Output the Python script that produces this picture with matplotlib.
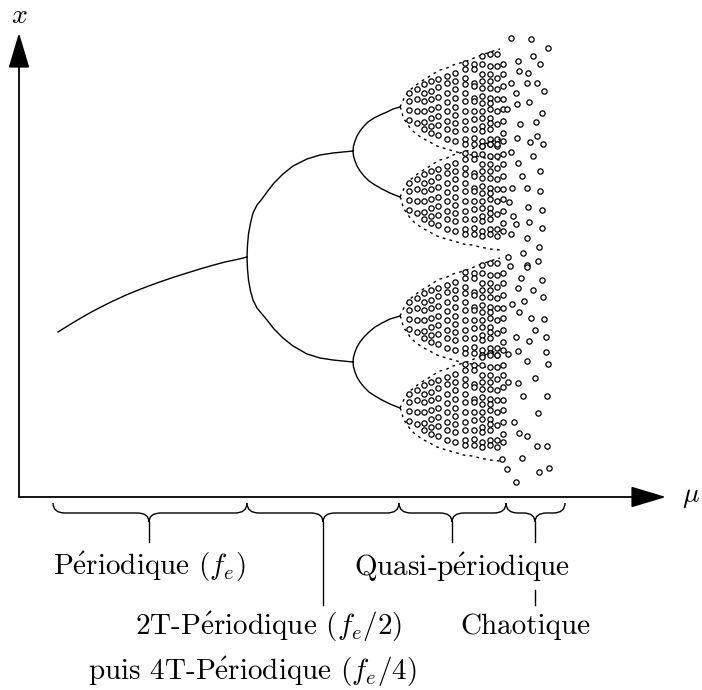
import matplotlib
matplotlib.use("Agg")
import matplotlib.pyplot as plt
from matplotlib.path import Path
from matplotlib.patches import PathPatch

plt.rcParams["mathtext.fontset"] = "cm"
plt.rcParams["font.family"] = ["cmr10", "DejaVu Serif"]

# --- data (picture coordinates, y grows downwards) ---
main_x = [58, 70, 80, 90, 100, 112, 125, 137, 150, 162, 175, 187, 200, 212, 225, 237, 247]
main_y = [332, 324.5, 318.5, 312.8, 307.5, 301.5, 295.5, 290.5, 285.5, 281.2, 276.8,
          273, 269, 265.5, 262, 259.5, 257]

arc_x = [247, 247.5, 248.5, 250.5, 253, 257, 262, 267, 274, 283, 293, 307, 320, 333, 343, 353]
arc_up_y = [257, 245, 234, 223, 213, 205, 199, 192, 183, 174, 166, 159, 155, 153, 152, 151]
arc_dn_y = [257, 269, 280, 291, 300, 308, 314, 320, 329, 338, 346, 354, 358, 360, 361, 362]

b1_up_x = [353, 353.5, 355, 357, 360, 364, 368, 374, 380, 387, 393, 400]
b1_up_y = [151, 146, 141, 136, 131, 126, 122, 118, 115, 112, 109, 107]
b1_dn_x = [353, 353.5, 355, 357, 360, 364, 369, 375, 382, 390, 400]
b1_dn_y = [151, 156, 161, 166, 171, 176, 181, 185, 189, 193, 197]
b2_up_x = [353, 353.5, 355, 357, 360, 364, 369, 375, 382, 390, 400]
b2_up_y = [362, 357, 352, 347, 342, 337, 332, 327, 323, 319, 316]
b2_dn_x = [353, 353.5, 355, 357, 360, 364, 369, 375, 382, 390, 400]
b2_dn_y = [362, 367, 372, 377, 382, 387, 392, 396, 400, 404, 408]

# tips of the four quasi-periodic lobes
lobe_x0 = [400, 400, 400, 400]
lobe_y0 = [107, 197, 316, 408]

# dashed lobe outline, offsets from the tip
env_up_dx = [0, 2, 5, 10, 15, 20, 27, 33, 40, 47, 53, 60, 67, 74, 82, 90, 100]
env_up_dy = [0, -4, -11, -17, -21, -25, -29, -33, -37, -39, -42, -44, -46, -49, -52, -55, -58]
env_dn_dx = [0, 2, 3, 7, 10, 15, 22, 28, 37, 43, 50, 57, 63, 72, 80, 90, 100]
env_dn_dy = [0, 4, 11, 16, 21, 26, 31, 34, 39, 41, 43, 45, 47, 48, 50, 52, 53]

# torus section dots inside a lobe: column offset -> row offsets
lobe_cols = {
    9: [-14, -6, 3, 13],
    17: [-18, -8, 4, 16],
    24: [-23, -14, -6, 4, 15, 22],
    31: [-26, -16, -8, 2, 11, 19, 26],
    38: [-28, -20, -10, 0, 9, 18, 28],
    47: [-31, -24, -14, -5, 4, 14, 22, 32],
    55: [-34, -26, -18, -9, 0, 8, 16, 24, 34],
    65: [-44, -38, -29, -23, -14, -6, 4, 14, 22, 32, 37],
    74: [-43, -38, -24, -21, -9, -6, 4, 12, 22, 31, 37],
    82: [-51, -43, -33, -26, -19, -11, -4, 4, 11, 19, 24, 34, 39],
    90: [-53, -41, -33, -26, -19, -9, -4, 2, 11, 16, 22, 32, 37],
    97: [-53, -41, -29, -18, -8, 4, 17, 32, 39],
    103: [-43, -33, -21, -8, 2, 14, 26, 34],
}

# chaotic scatter on the right
chaos_x = [511, 531, 548, 533, 518, 540, 519, 528, 511, 527, 537, 544, 516, 529,
           517, 542, 507, 536, 520, 537, 517, 530, 543,
           511, 518, 522, 527, 528, 529, 527, 523, 527, 533, 540, 540, 542, 542,
           539, 538, 512, 509, 513, 516, 511, 508,
           510, 527, 521, 518, 542, 533, 543, 524, 512, 519, 531, 544, 535, 516,
           529, 546, 518, 546, 527, 548, 508, 535,
           508, 518, 523, 547, 538, 514, 519, 527, 537, 547, 522, 549, 539, 516,
           507, 502]
chaos_y = [38, 39, 48, 56, 61, 64, 71, 73, 83, 83, 83, 91, 93, 102,
           104, 113, 109, 122, 124, 136, 138, 142, 144,
           152, 163, 176, 188, 207, 222, 238, 253, 265, 156, 171, 191, 210, 228,
           247, 261, 188, 202, 216, 224, 234, 257,
           266, 267, 278, 288, 280, 290, 297, 301, 304, 312, 318, 319, 330, 337,
           341, 337, 351, 352, 361, 364, 354, 378,
           382, 383, 396, 396, 413, 422, 433, 436, 446, 446, 458, 468, 472, 482,
           469, 459]

# regime braces along the mu axis
brace_x0 = [53, 247, 399, 506]
brace_x1 = [247, 399, 506, 565]
brace_tip = [149, 323, 452, 535]
stem_end = [542, 605, 542, 542]

labels = [r"P$\mathrm{\acute{e}}$riodique ($f_e$)",
          r"Quasi-p$\mathrm{\acute{e}}$riodique",
          r"2T-P$\mathrm{\acute{e}}$riodique ($f_e/2$)",
          r"Chaotique",
          r"puis 4T-P$\mathrm{\acute{e}}$riodique ($f_e/4$)"]
label_x = [149, 462, 269, 525, 252]
label_y = [567, 567, 627, 627, 672]


def brace(ax, x0, x1, xc, y0=503, y1=513, y2=522):
    r = min(12, (x1 - x0) / 5)
    verts = [(x0, y0), (x0, y1), (x0 + r, y1), (xc - r, y1), (xc, y1), (xc, y2),
             (xc, y1), (xc + r, y1), (x1 - r, y1), (x1, y1), (x1, y0)]
    codes = [Path.MOVETO, Path.CURVE3, Path.CURVE3, Path.LINETO, Path.CURVE3, Path.CURVE3,
             Path.CURVE3, Path.CURVE3, Path.LINETO, Path.CURVE3, Path.CURVE3]
    ax.add_patch(PathPatch(Path(verts, codes), fc="none", ec="k", lw=1.0))


fig = plt.figure(figsize=(7.02, 6.90), dpi=100)
ax = fig.add_axes([0, 0, 1, 1])
ax.set_xlim(0, 702)
ax.set_ylim(690, 0)
ax.axis("off")

# axes arrows
arrow = dict(arrowstyle="-|>,head_length=1.0,head_width=0.3", lw=1.3, color="k",
             mutation_scale=22, shrinkA=0, shrinkB=0)
ax.annotate("", xy=(666, 497), xytext=(19, 497), arrowprops=arrow)
ax.annotate("", xy=(19, 33), xytext=(19, 497), arrowprops=arrow)
ax.text(19, 16, r"$x$", fontsize=20, ha="center", va="center")
ax.text(691, 497, r"$\mu$", fontsize=20, ha="center", va="center")

# periodic branches
for xs, ys in [(main_x, main_y), (arc_x, arc_up_y), (arc_x, arc_dn_y),
               (b1_up_x, b1_up_y), (b1_dn_x, b1_dn_y), (b2_up_x, b2_up_y), (b2_dn_x, b2_dn_y)]:
    ax.plot(xs, ys, color="k", lw=1.0, solid_joinstyle="round")

# quasi-periodic lobes
dot = dict(ls="none", marker="o", ms=3.8, mfc="white", mec="k", mew=0.9)
for x0, y0 in zip(lobe_x0, lobe_y0):
    ax.plot([x0 + d for d in env_up_dx], [y0 + d for d in env_up_dy],
            color="k", lw=1.0, ls=(0, (2, 3)))
    ax.plot([x0 + d for d in env_dn_dx], [y0 + d for d in env_dn_dy],
            color="k", lw=1.0, ls=(0, (2, 3)))
    px, py = [], []
    for dx, dys in lobe_cols.items():
        px += [x0 + dx] * len(dys)
        py += [y0 + d for d in dys]
    ax.plot(px, py, **dot)

ax.plot(chaos_x, chaos_y, **dot)

# braces and labels
for x0, x1, xc, ye in zip(brace_x0, brace_x1, brace_tip, stem_end):
    brace(ax, x0, x1, xc)
    ax.plot([xc, xc], [522, ye], color="k", lw=1.0)
ax.plot([535, 535], [590, 605], color="k", lw=1.0)

for s, x, y in zip(labels, label_x, label_y):
    ax.text(x, y, s, fontsize=21, ha="center", va="center")

fig.savefig("out.png", dpi=100)
